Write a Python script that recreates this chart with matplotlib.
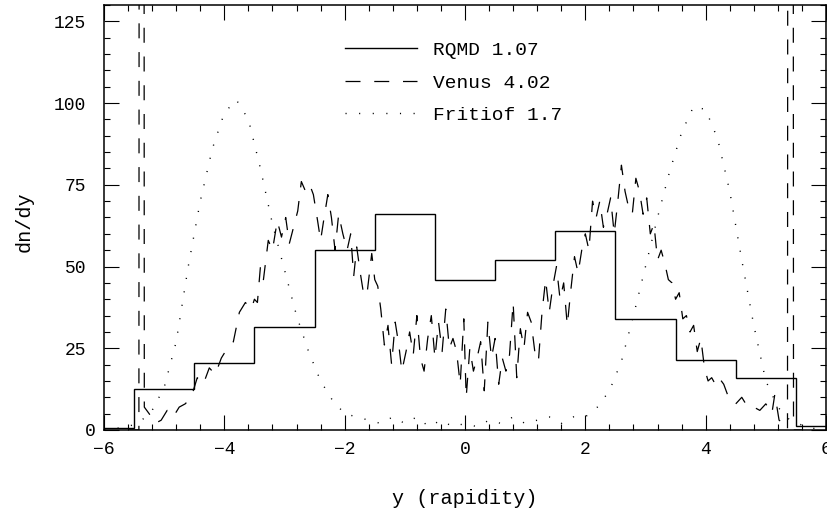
import numpy as np
import matplotlib
matplotlib.use("Agg")
import matplotlib.pyplot as plt
import matplotlib.transforms as mtransforms
from matplotlib.ticker import MultipleLocator

plt.rcParams['font.family'] = ['Liberation Mono', 'DejaVu Sans Mono']

# RQMD 1.07 histogram (bin edges and dn/dy per bin)
rqmd_edges = [-6.0, -5.5, -4.5, -3.5, -2.5, -1.5, -0.5, 0.5, 1.5, 2.5, 3.5, 4.5, 5.5, 6.0]
rqmd_vals = [0.7, 12.4, 20.4, 31.4, 55.0, 66.0, 46.0, 52.0, 61.0, 34.0, 21.5, 16.0, 1.2]

# Venus 4.02 (noisy spectrum with spectator spikes near |y| = 5.4)
venus_x = [-5.60, -5.42, -5.41, -5.34, -5.33, -5.25, -5.15, -5.05, -4.95, -4.85,
           -4.75, -4.65, -4.55, -4.45, -4.35, -4.25, -4.15, -4.05, -3.95, -3.85,
           -3.75, -3.65, -3.55, -3.50, -3.45, -3.40, -3.35, -3.27, -3.20, -3.12,
           -3.05, -2.98, -2.92, -2.85, -2.78, -2.72, -2.65, -2.58, -2.52, -2.45,
           -2.40, -2.35, -2.28, -2.22, -2.16, -2.10, -2.03, -1.96, -1.90, -1.85,
           -1.80, -1.74, -1.68, -1.62, -1.55, -1.50, -1.45, -1.40, -1.34, -1.28,
           -1.22, -1.16, -1.10, -1.05, -0.98, -0.92, -0.86, -0.80, -0.74, -0.68,
           -0.62, -0.56, -0.50, -0.44, -0.38, -0.32, -0.26, -0.20, -0.14, -0.08,
           -0.02, 0.02, 0.08, 0.14, 0.20, 0.26, 0.32, 0.38, 0.44, 0.50,
           0.56, 0.62, 0.68, 0.74, 0.80, 0.86, 0.92, 0.98, 1.04, 1.10,
           1.16, 1.22, 1.28, 1.34, 1.40, 1.46, 1.52, 1.58, 1.64, 1.70,
           1.76, 1.82, 1.88, 1.94, 2.00, 2.06, 2.12, 2.18, 2.24, 2.30,
           2.36, 2.42, 2.48, 2.54, 2.60, 2.66, 2.72, 2.78, 2.84, 2.90,
           2.96, 3.02, 3.08, 3.14, 3.20, 3.26, 3.32, 3.38, 3.44, 3.50,
           3.56, 3.62, 3.68, 3.74, 3.80, 3.86, 3.92, 3.98, 4.04, 4.10,
           4.16, 4.22, 4.30, 4.40, 4.50, 4.60, 4.70, 4.80, 4.90, 5.00,
           5.10, 5.15, 5.22, 5.30, 5.36, 5.37, 5.45, 5.46, 5.60]
venus_y = [0, 0, 400, 400, 7, 5, 2, 3, 6, 4,
           7, 8, 10, 16, 14, 19, 17, 22, 25, 27,
           36, 39, 37, 40, 39, 50, 46, 58, 55, 64,
           59, 65, 57, 62, 67, 76, 73, 75, 72, 64,
           58, 64, 72, 65, 55, 66, 60, 55, 60, 47,
           56, 48, 41, 43, 54, 46, 44, 37, 26, 32,
           20, 33, 26, 18, 24, 30, 23, 35, 22, 18,
           28, 35, 22, 33, 24, 37, 25, 28, 24, 14,
           34, 10, 25, 18, 22, 27, 12, 33, 22, 28,
           14, 22, 18, 23, 39, 16, 31, 25, 36, 33,
           24, 21, 36, 46, 36, 44, 50, 40, 45, 32,
           43, 53, 48, 55, 60, 55, 70, 65, 70, 62,
           66, 71, 60, 70, 81, 73, 68, 66, 77, 73,
           66, 71, 60, 63, 52, 55, 51, 46, 45, 40,
           42, 34, 35, 30, 32, 24, 28, 19, 15, 16,
           14, 16, 14, 9, 8, 10, 7, 7, 6, 8,
           5, 11, 3, 2, 0, 400, 400, 0, 0]

# Fritiof 1.7
fritiof_x = np.round(np.arange(-6.0, 6.01, 0.2), 2)
fritiof_y = [0.3, 0.5, 1.0, 2.5, 6, 13, 27, 50, 70, 86,
             97, 101, 95, 80, 63, 49, 35, 24, 15, 9,
             5, 4, 3, 2, 4, 2, 4, 1, 3, 1,
             2, 1, 3, 2, 4, 2, 3, 4, 2, 4,
             4, 7, 12, 21, 35, 50, 65, 79, 91, 99,
             98, 89, 73, 52, 32, 15, 7, 3, 1.5, 0.5, 0.3]

fig = plt.figure(figsize=(8.28, 5.16), dpi=100)
ax = fig.add_axes([104 / 828, 1 - 430 / 516, 722 / 828, 425 / 516])

ax.stairs(rqmd_vals, rqmd_edges, color='black', lw=1.0, label='RQMD 1.07')
ax.plot(venus_x, venus_y, color='black', lw=0.9, dashes=(12, 11), label='Venus 4.02')
ax.plot(fritiof_x, fritiof_y, color='black', lw=1.0, dashes=(0.8, 9), label='Fritiof 1.7')

ax.set_xlim(-6, 6)
ax.set_ylim(0, 130)
ax.set_xticks([-6, -4, -2, 0, 2, 4, 6])
ax.set_yticks([0, 25, 50, 75, 100, 125])
ax.xaxis.set_minor_locator(MultipleLocator(0.4))
ax.yaxis.set_minor_locator(MultipleLocator(5))
ax.tick_params(which='both', direction='in', top=True, right=True, width=0.8, labelsize=13)
ax.tick_params(which='major', length=10.8)
ax.tick_params(which='minor', length=4.3)
ax.tick_params(axis='x', pad=8)
ax.tick_params(axis='y', pad=13)
for sp in ax.spines.values():
    sp.set_linewidth(1.1)

# the "0" label sits closer to the axis in the original
zero_lab = ax.yaxis.get_major_ticks()[0].label1
zero_lab.set_transform(zero_lab.get_transform()
                       + mtransforms.ScaledTranslation(10 / 100, 0, fig.dpi_scale_trans))

ax.set_xlabel('y (rapidity)', fontsize=14.5)
ax.set_ylabel('dn/dy', fontsize=14.5)
ax.xaxis.set_label_coords(0.5, -0.14)
ax.yaxis.set_label_coords(-0.098, 0.489)

ax.legend(loc='upper left', bbox_to_anchor=(0.334, 0.915), frameon=False,
          fontsize=14, handlelength=3.7, handletextpad=0.8, labelspacing=0.78,
          borderpad=0, borderaxespad=0)

fig.savefig('out.png', dpi=100)
